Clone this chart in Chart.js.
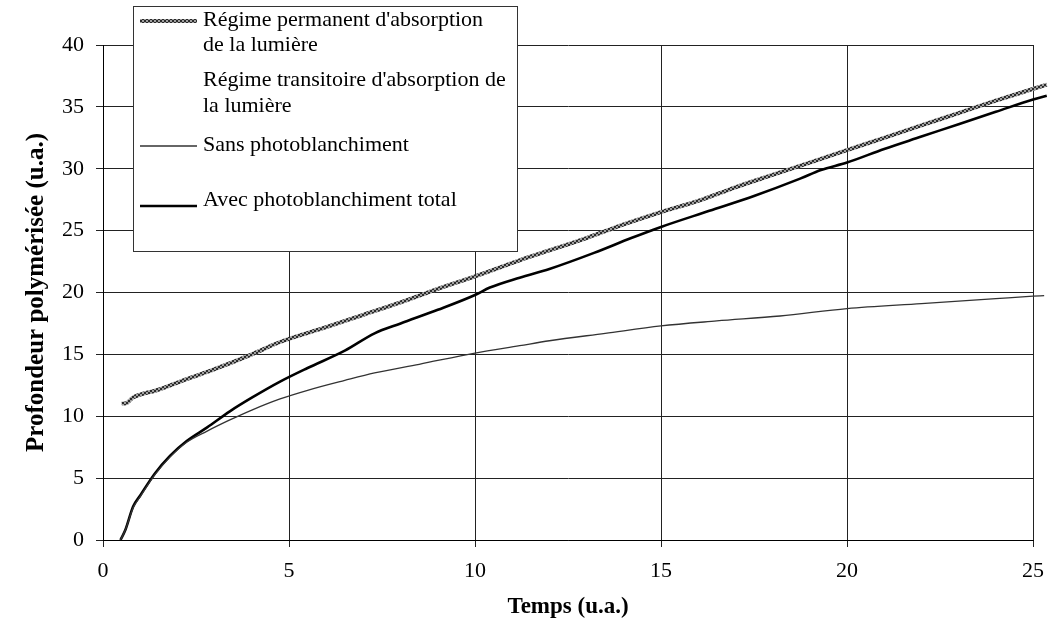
<!DOCTYPE html>
<html>
<head>
<meta charset="utf-8">
<script src="https://cdn.jsdelivr.net/npm/chart.js@4/dist/chart.umd.min.js"></script>
<style>
  html, body { margin: 0; padding: 0; background: #fff; }
  #wrap { width: 1048px; height: 630px; position: relative; }
</style>
</head>
<body>
<div id="wrap"><canvas id="profChart"></canvas></div>
<script>
// Temps (u.a.) / profondeur (u.a.) for each curve
const permX = [0.5, 0.65, 0.8, 1.0, 1.44, 2.25, 3.0, 4.0, 4.76, 6.0, 7.0, 8.0, 9.0, 10.0, 11.2, 12.0, 13.0, 14.0, 15.0, 16.0, 17.0, 18.0, 19.0, 20.0, 21.0, 22.0, 23.0, 24.0, 25.0, 25.37];
const permY = [11.0, 11.1, 11.5, 11.75, 12.1, 13.0, 13.8, 15.0, 16.0, 17.2, 18.2, 19.2, 20.3, 21.3, 22.6, 23.4, 24.4, 25.5, 26.5, 27.4, 28.5, 29.5, 30.5, 31.5, 32.5, 33.5, 34.5, 35.5, 36.45, 36.8];

const avecX = [0.47, 0.6, 0.81, 1.0, 1.4, 1.8, 2.25, 2.8, 3.41, 4.0, 4.76, 5.5, 6.5, 7.3, 8.0, 9.0, 10.0, 10.4, 11.2, 12.0, 13.2, 14.2, 15.0, 16.3, 17.5, 18.74, 19.3, 20.0, 21.0, 22.0, 23.0, 24.0, 25.0, 25.37];
const avecY = [0.0, 0.8, 2.7, 3.6, 5.4, 6.8, 8.0, 9.1, 10.4, 11.5, 12.8, 13.9, 15.3, 16.7, 17.5, 18.6, 19.8, 20.4, 21.2, 21.9, 23.2, 24.4, 25.3, 26.6, 27.8, 29.2, 29.9, 30.5, 31.6, 32.6, 33.6, 34.6, 35.6, 35.9];

const sansX = [0.47, 0.6, 0.81, 1.0, 1.4, 1.8, 2.25, 2.8, 3.41, 4.0, 4.76, 5.5, 6.5, 7.3, 8.5, 10.0, 11.2, 12.0, 13.5, 15.0, 16.5, 18.2, 20.0, 22.0, 24.0, 25.0, 25.3];
const sansY = [0.0, 0.8, 2.6, 3.5, 5.3, 6.7, 7.9, 8.8, 9.7, 10.5, 11.4, 12.1, 12.9, 13.5, 14.2, 15.1, 15.7, 16.1, 16.7, 17.3, 17.7, 18.1, 18.7, 19.1, 19.5, 19.7, 19.75];

const xTicks = [0, 5, 10, 15, 20, 25];
const yTicks = [0, 5, 10, 15, 20, 25, 30, 35, 40];

const seriesLabels = [
  "Régime permanent d'absorption\nde la lumière",
  "Régime transitoire d'absorption de\nla lumière",
  'Sans photoblanchiment',
  'Avec photoblanchiment total'
];

const serif = "'Liberation Serif', 'Times New Roman', serif";

function toPoints(xs, ys) {
  return xs.map((x, i) => ({ x: x, y: ys[i] }));
}

// speckled grey stroke for the steady-state curve
function hatchPattern() {
  const c = document.createElement('canvas');
  c.width = 4; c.height = 4;
  const g = c.getContext('2d');
  g.fillStyle = '#a0a0a0';
  g.fillRect(0, 0, 4, 4);
  g.fillStyle = '#2a2a2a';
  g.fillRect(0, 0, 2, 2);
  g.fillRect(2, 2, 2, 2);
  return g.createPattern(c, 'repeat');
}
const hatch = hatchPattern();

// boxed legend in the upper left, entries laid out by hand
const boxLegend = {
  id: 'boxLegend',
  afterDraw(chart) {
    const ctx = chart.ctx;
    const box = { x: 133.5, y: 6.5, w: 384, h: 245 };
    const rows = [
      { lines: [20, 45], sample: 21 },
      { lines: [80, 106], sample: null },
      { lines: [145], sample: 146 },
      { lines: [200], sample: 206 }
    ];
    ctx.save();
    ctx.fillStyle = '#fff';
    ctx.fillRect(box.x, box.y, box.w, box.h);
    ctx.strokeStyle = '#333';
    ctx.lineWidth = 1;
    ctx.strokeRect(box.x, box.y, box.w, box.h);
    ctx.font = '22px ' + serif;
    ctx.fillStyle = '#000';
    ctx.textBaseline = 'middle';
    chart.data.datasets.forEach((ds, i) => {
      const row = rows[i];
      if (row.sample !== null && ds.borderWidth > 0) {
        ctx.beginPath();
        ctx.strokeStyle = ds.borderColor;
        ctx.lineWidth = ds.borderWidth;
        ctx.moveTo(140, row.sample);
        ctx.lineTo(197, row.sample);
        ctx.stroke();
      }
      ds.label.split('\n').forEach((txt, k) => {
        ctx.fillText(txt, 203, row.lines[k]);
      });
    });
    ctx.restore();
  }
};

const ctx = document.getElementById('profChart').getContext('2d');
new Chart(ctx, {
  type: 'line',
  data: {
    datasets: [
      {
        label: seriesLabels[0],
        data: toPoints(permX, permY),
        borderColor: hatch,
        borderWidth: 4,
        clip: false
      },
      {
        label: seriesLabels[1],
        data: [],
        borderColor: 'rgba(0,0,0,0)',
        borderWidth: 0
      },
      {
        label: seriesLabels[2],
        data: toPoints(sansX, sansY),
        borderColor: '#333',
        borderWidth: 1.3,
        clip: false
      },
      {
        label: seriesLabels[3],
        data: toPoints(avecX, avecY),
        borderColor: '#000',
        borderWidth: 2.6,
        clip: false
      }
    ]
  },
  options: {
    responsive: true,
    maintainAspectRatio: false,
    animation: false,
    datasets: {
      line: {
        pointRadius: 0,
        cubicInterpolationMode: 'monotone',
        fill: false
      }
    },
    layout: { padding: { top: 45, right: 15, left: 0, bottom: 0 } },
    plugins: {
      legend: { display: false },
      tooltip: { enabled: false }
    },
    scales: {
      x: {
        type: 'linear',
        // range fixed here rather than min/max so the curves run past 25
        afterDataLimits: function(scale) {
          scale.min = 0;
          scale.max = 25;
        },
        afterFit: function(scale) {
          scale.height = 90;
          scale.paddingLeft = 0;
          scale.paddingRight = 0;
        },
        afterBuildTicks: function(scale) { scale.ticks = xTicks.map(v => ({ value: v })); },
        grid: { color: '#222', lineWidth: 1, tickLength: 7 },
        border: { color: '#000', width: 1 },
        ticks: {
          color: '#000',
          padding: 11,
          maxRotation: 0,
          font: { family: serif, size: 22 }
        },
        title: {
          display: true,
          text: 'Temps (u.a.)',
          color: '#000',
          padding: { top: 0, bottom: 9 },
          font: { family: serif, size: 23, weight: 'bold' }
        }
      },
      y: {
        min: 0,
        max: 40,
        afterFit: function(scale) { scale.width = 103; },
        afterBuildTicks: function(scale) { scale.ticks = yTicks.map(v => ({ value: v })); },
        grid: { color: '#222', lineWidth: 1, tickLength: 7 },
        border: { color: '#000', width: 1 },
        ticks: {
          color: '#000',
          padding: 12,
          font: { family: serif, size: 22 }
        },
        title: {
          display: true,
          text: 'Profondeur polymérisée (u.a.)',
          color: '#000',
          padding: { top: 22, bottom: 0 },
          font: { family: serif, size: 25, weight: 'bold' }
        }
      }
    }
  },
  plugins: [boxLegend]
});
</script>
</body>
</html>
